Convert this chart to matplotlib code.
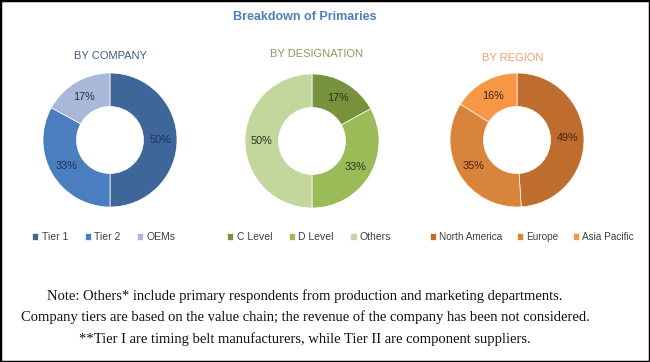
import numpy as np
import matplotlib.pyplot as plt
from matplotlib.patches import Rectangle

# data
company_labels = ['Tier 1', 'Tier 2', 'OEMs']
company_vals = [50, 33, 17]
company_colors = ['#3f6699', '#4a7ebf', '#a9b7d8']

desig_labels = ['C Level', 'D Level', 'Others']
desig_vals = [17, 33, 50]
desig_colors = ['#76923c', '#9bbb59', '#c3d69b']

region_labels = ['North America', 'Europe', 'Asia Pacific']
region_vals = [49, 35, 16]
region_colors = ['#bf6d2f', '#d9843b', '#f79646']

notes = [
    "Note: Others* include primary respondents from production and marketing departments.",
    "Company tiers are based on the value chain; the revenue of the company has been not considered.",
    "**Tier I are timing belt manufacturers, while Tier II are component suppliers.",
]

W, H = 650, 362
fig = plt.figure(figsize=(W / 100, H / 100), dpi=100)
fig.patch.set_facecolor('white')

sans = ['Liberation Sans', 'DejaVu Sans']
serif = ['Liberation Serif', 'DejaVu Serif']


def donut(cx, cy, vals, colors, labels, title, title_xy, title_color, label_color, leg_x,
          colsp=1.6, legsize=7.5):
    r = 67
    ax = fig.add_axes([(cx - r) / W, (H - cy - r) / H, 2 * r / W, 2 * r / H])
    wedges, _ = ax.pie(vals, colors=colors, startangle=90, counterclock=False,
                       radius=1, wedgeprops=dict(width=0.5, edgecolor='white', linewidth=0.5))
    ax.set_xlim(-1, 1)
    ax.set_ylim(-1, 1)
    ax.set_aspect('equal')
    ax.axis('off')
    start = 90.0
    for v in vals:
        mid = np.deg2rad(start - v * 3.6 / 2)
        ax.text(0.75 * np.cos(mid), 0.75 * np.sin(mid), f"{v}%", ha='center', va='center',
                fontsize=7.8, color=label_color, family=sans)
        start -= v * 3.6
    fig.text(title_xy[0] / W, 1 - title_xy[1] / H, title, ha='center', va='center',
             fontsize=8, color=title_color, family=sans)
    fig.legend(wedges, labels, loc='center left', bbox_to_anchor=(leg_x / W, 1 - 237 / H),
               ncol=3, frameon=False, handlelength=0.6, handleheight=0.6, handletextpad=0.3,
               columnspacing=colsp, borderpad=0, prop=dict(family=sans, size=legsize),
               labelcolor='#404040')


donut(110, 140, company_vals, company_colors, company_labels, 'BY COMPANY', (110, 56),
      '#3f5a85', '#1f2f4f', 27)
donut(312, 141, desig_vals, desig_colors, desig_labels, 'BY DESIGNATION', (317, 54),
      '#8c9c5a', '#2a3315', 222)
donut(517, 140, region_vals, region_colors, region_labels, 'BY REGION', (513, 58),
      '#e9a06c', '#4a200a', 425, colsp=1.5, legsize=7.2)

fig.text(305 / W, 1 - 17 / H, 'Breakdown of Primaries', ha='center', va='center',
         fontsize=9, fontweight='bold', color='#4f7fba', family=sans)

for i, line in enumerate(notes):
    fig.text(305 / W, 1 - (296 + 21.5 * i) / H, line, ha='center', va='center',
             fontsize=10.5, color='#111111', family=serif)

fig.patches.append(Rectangle((0, 0), 1, 1, transform=fig.transFigure, fill=False,
                             edgecolor='black', linewidth=2.5))

fig.savefig('out.png', dpi=100)
